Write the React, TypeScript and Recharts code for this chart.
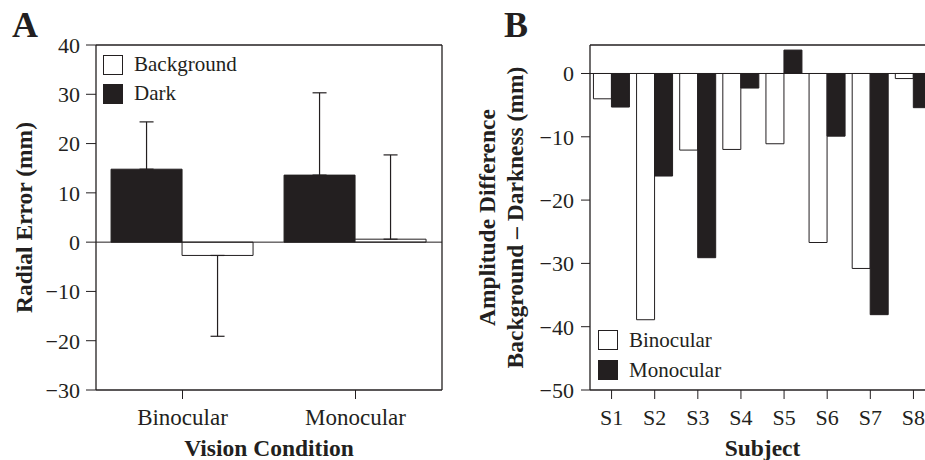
import { Bar, BarChart, ErrorBar, Label, Legend, ReferenceLine, XAxis, YAxis } from 'recharts';

const conditions = ['Binocular', 'Monocular'];
const darkMeans = [14.8, 13.6];
const darkSpread = [9.6, 16.7];
const backgroundMeans = [-2.7, 0.6];
const backgroundSpread = [16.4, 17.1];
const radialTicks = [-30, -20, -10, 0, 10, 20, 30, 40];

const subjects = ['S1', 'S2', 'S3', 'S4', 'S5', 'S6', 'S7', 'S8'];
const binocularDiff = [-4.0, -38.9, -12.1, -12.0, -11.1, -26.7, -30.8, -0.8];
const monocularDiff = [-5.3, -16.2, -29.1, -2.3, 3.7, -9.9, -38.1, -5.4];
const diffTicks = [-50, -40, -30, -20, -10, 0];

const INK = '#231f20';
const FONT = '"Liberation Serif", "Times New Roman", serif';

// whisker only on the side away from zero
const oneSided = (value: number, spread: number) => (value < 0 ? [spread, 0] : [0, spread]);

const radialData = conditions.map((condition, i) => ({
  condition,
  dark: darkMeans[i],
  darkErr: oneSided(darkMeans[i], darkSpread[i]),
  background: backgroundMeans[i],
  backgroundErr: oneSided(backgroundMeans[i], backgroundSpread[i]),
}));

const diffData = subjects.map((subject, i) => ({
  subject,
  binocular: binocularDiff[i],
  monocular: monocularDiff[i],
}));

const minus = (v: number) => (v < 0 ? `\u2212${Math.abs(v)}` : `${v}`);

interface SwatchItem {
  label: string;
  filled: boolean;
}

function BoxLegend({ items, rowHeight }: { items: SwatchItem[]; rowHeight: number }) {
  return (
    <div style={{ fontFamily: FONT, fontSize: 21, color: INK }}>
      {items.map((item) => (
        <div key={item.label} style={{ display: 'flex', alignItems: 'center', height: rowHeight }}>
          <span
            style={{
              display: 'inline-block',
              width: 18,
              height: 18,
              border: `1px solid ${INK}`,
              background: item.filled ? INK : '#fff',
              marginRight: 11,
            }}
          />
          <span style={{ lineHeight: `${rowHeight}px`, whiteSpace: 'nowrap' }}>{item.label}</span>
        </div>
      ))}
    </div>
  );
}

const tickStyle = (size: number) => ({ fill: INK, fontSize: size, fontFamily: FONT });
const axisLine = { stroke: INK, strokeWidth: 1.3 };
const titleProps = { fill: INK, fontSize: 23.5, fontWeight: 'bold', fontFamily: FONT };
const panelLetter = { position: 'absolute' as const, top: 7, fontFamily: FONT, fontSize: 36, fontWeight: 'bold', color: INK, lineHeight: '36px' };

export default function App() {
  return (
    <div style={{ position: 'fixed', left: 0, top: 0, width: 925, height: 460, overflow: 'hidden', background: '#fff' }}>
      <div style={{ ...panelLetter, left: 12 }}>A</div>
      <div style={{ ...panelLetter, left: 504 }}>B</div>

      <div style={{ position: 'absolute', left: 0, top: 0 }}>
        <BarChart
          width={460}
          height={460}
          data={radialData}
          margin={{ top: 44, right: 17, bottom: 0, left: 0 }}
          barCategoryGap="8.7%"
          barGap={0}
        >
          <XAxis
            dataKey="condition"
            height={70}
            tickSize={9}
            tickMargin={10}
            tick={tickStyle(23)}
            tickLine={{ stroke: INK }}
            axisLine={axisLine}
          >
            <Label value="Vision Condition" position="insideBottom" offset={4} {...titleProps} />
          </XAxis>
          <XAxis xAxisId="top" dataKey="condition" orientation="top" height={1} tick={false} tickLine={false} axisLine={axisLine} />
          <YAxis
            width={96}
            domain={[-30, 40]}
            ticks={radialTicks}
            tickFormatter={minus}
            tickSize={10}
            tickMargin={6}
            tick={tickStyle(22)}
            tickLine={{ stroke: INK }}
            axisLine={axisLine}
          >
            <Label value="Radial Error (mm)" angle={-90} position="center" dx={-24} {...titleProps} />
          </YAxis>
          <YAxis yAxisId="right" orientation="right" width={1} domain={[-30, 40]} tick={false} tickLine={false} axisLine={axisLine} />
          <ReferenceLine y={0} stroke={INK} strokeWidth={1} />
          <Bar dataKey="dark" name="Dark" fill={INK} stroke={INK} isAnimationActive={false}>
            <ErrorBar dataKey="darkErr" direction="y" width={7} stroke={INK} strokeWidth={1.2} isAnimationActive={false} />
          </Bar>
          <Bar dataKey="background" name="Background" fill="#fff" stroke={INK} isAnimationActive={false}>
            <ErrorBar dataKey="backgroundErr" direction="y" width={7} stroke={INK} strokeWidth={1.2} isAnimationActive={false} />
          </Bar>
          <Legend
            layout="vertical"
            align="center"
            verticalAlign="middle"
            wrapperStyle={{ left: 103, top: 50, width: 'auto' }}
            content={() => (
              <BoxLegend
                rowHeight={29}
                items={[
                  { label: 'Background', filled: false },
                  { label: 'Dark', filled: true },
                ]}
              />
            )}
          />
        </BarChart>
      </div>

      <div style={{ position: 'absolute', left: 460, top: 0 }}>
        <BarChart
          width={475}
          height={460}
          data={diffData}
          margin={{ top: 44, right: 0, bottom: 0, left: 0 }}
          barCategoryGap="8%"
          barGap={0}
        >
          <XAxis
            dataKey="subject"
            interval={0}
            height={70}
            tickSize={9}
            tickMargin={10}
            tick={tickStyle(22)}
            tickLine={{ stroke: INK }}
            axisLine={axisLine}
          >
            <Label value="Subject" position="insideBottom" offset={4} {...titleProps} />
          </XAxis>
          <XAxis xAxisId="top" dataKey="subject" orientation="top" height={1} tick={false} tickLine={false} axisLine={axisLine} />
          <YAxis
            width={130}
            domain={[-50, 4.5]}
            ticks={diffTicks}
            tickFormatter={minus}
            tickSize={9}
            tickMargin={7}
            tick={tickStyle(22)}
            tickLine={{ stroke: INK }}
            axisLine={axisLine}
          >
            <Label value="Amplitude Difference" angle={-90} position="center" dx={-38} {...titleProps} />
            <Label value="Background – Darkness (mm)" angle={-90} position="center" dx={-10} {...titleProps} />
          </YAxis>
          <ReferenceLine y={0} stroke={INK} strokeWidth={1} />
          <Bar dataKey="binocular" name="Binocular" fill="#fff" stroke={INK} isAnimationActive={false} />
          <Bar dataKey="monocular" name="Monocular" fill={INK} stroke={INK} isAnimationActive={false} />
          <Legend
            layout="vertical"
            align="center"
            verticalAlign="middle"
            wrapperStyle={{ left: 138, top: 325, width: 'auto' }}
            content={() => (
              <BoxLegend
                rowHeight={30}
                items={[
                  { label: 'Binocular', filled: false },
                  { label: 'Monocular', filled: true },
                ]}
              />
            )}
          />
        </BarChart>
      </div>
    </div>
  );
}
